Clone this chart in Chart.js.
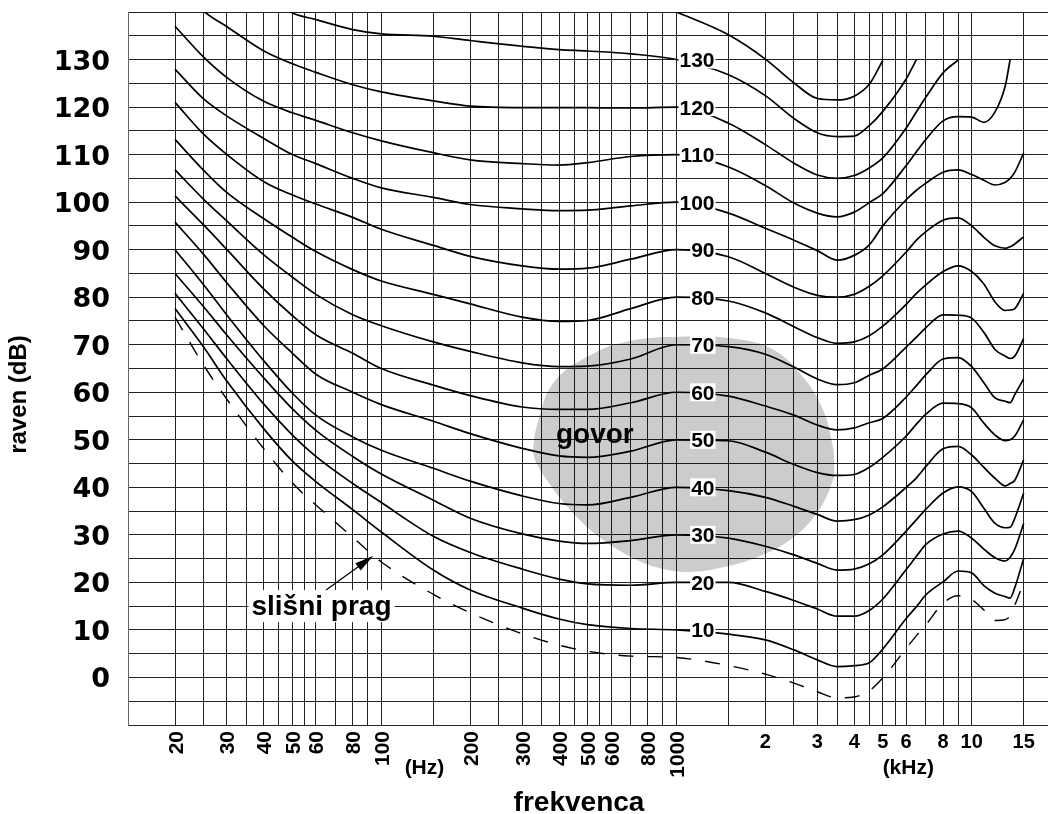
<!DOCTYPE html>
<html>
<head>
<meta charset="utf-8">
<script src="https://cdn.jsdelivr.net/npm/chart.js@4.4.1/dist/chart.umd.min.js"></script>
<style>
  html, body { margin: 0; padding: 0; background: #fff; }
</style>
</head>
<body>
<canvas id="loudnessChart" width="1048" height="814"></canvas>
<script>
const freqs = [20, 25, 30, 40, 50, 60, 80, 100, 150, 200, 300, 400, 500, 700, 1000,
  1500, 2000, 2500, 3000, 3500, 4000, 4500, 5000, 6000, 6500, 7000, 8000, 9000,
  10000, 11000, 12000, 13000, 13500, 14000, 15000];
const n = null;

// equal loudness contours, level in dB at each frequency above
const phon140 = [n, n, n, n, n, n, n, n, n, n, n, n, n, 144, 140, 135.2, 130.1, 125.1, 121.8, 121.5, 122.3, 124.8, 129.8, n, n, n, n, n, n, n, n, n, n, n, n];
const phon130 = [n, n, n, 143.5, 139.8, 138.4, 136.3, 135.4, 134.9, 134, 132.8, 132.1, 131.8, 131.2, 130, 126.8, 122.4, 117.6, 114.6, 113.8, 113.9, 116.1, 119.1, 125.9, 130, n, n, n, n, n, n, n, n, n, n];
const phon120 = [147, 140.2, 136.9, 131.8, 129.1, 127.3, 124.7, 123.2, 121.3, 120.2, 119.9, 119.9, 119.9, 119.8, 120, 116.6, 112.1, 108.2, 105.7, 105, 105.6, 107.2, 109.3, 115.6, 119, 122.1, 127.2, 129.9, n, n, n, n, n, n, n];
const phon110 = [137, 130.5, 126.2, 121.2, 118.8, 117.2, 114.6, 112.9, 110.4, 108.9, 108.1, 107.8, 108.3, 109.6, 110, 107.4, 103.5, 99.8, 97.7, 96.9, 97.9, 99.9, 101.8, 107.7, 110.6, 113.2, 117.1, 118, 117.9, 116.8, 119, 124.5, 130, n, n];
const phon100 = [128, 121.7, 118.1, 113.4, 110, 108.1, 105, 103, 101, 99.5, 98.6, 98.2, 98.3, 99.2, 100, 97.7, 94.5, 92, 89.8, 87.8, 88.8, 91, 95, 100.5, 102.5, 104, 106.3, 106.8, 105.8, 104.6, 103.6, 104.2, 105, 106.3, 110.3];
const phon90 = [121, 114.3, 110, 104.3, 101.5, 99.6, 96.8, 94.3, 90.9, 88.6, 86.6, 85.9, 86.1, 88, 90, 88.5, 85, 82.1, 80.4, 80, 80.6, 82.3, 84.5, 89.5, 92, 93.8, 96.2, 96.7, 95, 92.6, 90.8, 90.3, 90.6, 91.2, 92.7];
const phon80 = [113.2, 106.7, 102, 96.5, 92.6, 89.6, 85.8, 83.4, 80.6, 78.6, 75.8, 74.9, 75.1, 77.6, 80, 79.2, 76.7, 73.8, 71.5, 70.3, 70.6, 71.9, 73.9, 78.5, 80.8, 82.6, 85.4, 86.6, 85.4, 82.8, 79, 77.2, 77.3, 77.6, 80.8];
const phon70 = [106.8, 100.6, 96, 88.9, 84.2, 80.6, 76.3, 74, 70.6, 68.6, 66.2, 65.4, 65.5, 67, 70, 69.6, 68, 65.3, 62.8, 61.6, 62, 63.6, 64.9, 69.5, 71.6, 73.6, 76.3, 76.2, 75.6, 72.6, 69, 67.6, 67.1, 67.6, 71.3];
const phon60 = [101.3, 95.2, 90, 81.7, 76.1, 72.1, 68.2, 65, 61.5, 59.3, 56.9, 56.4, 56.4, 57.8, 60, 59.2, 57.1, 55.2, 53.1, 52.1, 52.5, 53.6, 54.5, 59, 61.4, 63.7, 67, 67.3, 65.4, 62, 58.8, 58.1, 57.8, 59.5, 62.8];
const phon50 = [95.8, 89, 83, 74, 68.2, 63.8, 60, 57.4, 53.9, 51.3, 48.2, 46.6, 46.3, 47.6, 50, 49.8, 47.4, 44.8, 43.1, 42.5, 42.7, 44.2, 46.3, 50.8, 53.3, 55.4, 57.7, 57.6, 56.7, 53.5, 51, 49.8, 50, 50.8, 54.2];
const phon40 = [90, 82.6, 76.2, 66.6, 59.8, 55.2, 50.6, 47.8, 44, 41.3, 38.2, 36.6, 36.3, 37.9, 40, 39.3, 37.9, 36, 34.3, 32.9, 33.2, 34.2, 35.9, 40, 42, 44.4, 48.1, 48.6, 46.8, 44.2, 41.9, 40.3, 40.8, 41.5, 45.8];
const phon30 = [85, 78, 72, 63, 56.5, 52, 46.5, 42.8, 37.3, 33.5, 30.2, 28.7, 28.2, 28.8, 30, 29.3, 27.6, 25.8, 24, 22.6, 22.8, 23.9, 25.8, 30.8, 33.2, 35.4, 38.8, 40.1, 39.1, 35.6, 32.4, 31.5, 31.6, 33.5, 38.8];
const phon20 = [80.8, 73.3, 67, 57.5, 51, 46.5, 40.8, 36.8, 29.7, 26.3, 22.8, 20.7, 19.7, 19.4, 20, 20, 18.1, 16.2, 14.4, 12.9, 12.9, 14.1, 16.5, 22.7, 25.5, 28, 30.2, 30.8, 29.3, 27, 25.2, 24.5, 25.3, 27, 32.4];
const phon10 = [77.6, 69.5, 62.3, 52.3, 45.5, 41.2, 35.3, 30.6, 22.6, 18.4, 14.6, 12.3, 11.1, 10.3, 10, 9.1, 7.9, 5.8, 3.7, 2.3, 2.5, 3.1, 6, 12.4, 14.9, 17.4, 20.1, 22.4, 22, 19.3, 17.7, 17, 16.7, 18.9, 25];
// threshold of hearing (dashed)
const threshold = [75.8, 65.7, 58.5, 48.1, 40.9, 36.3, 29.5, 24.3, 17.5, 13.6, 9.2, 6.8, 5.5, 4.5, 4.2, 2.5, 0.7, -1.2, -3, -4.3, -4.1, -2.8, -0.1, 6.1, 8.8, 11.1, 15.6, 17.2, 16.4, 14.2, 12, 12.2, 13, 15.2, 20];

// speech area outline
const speechFreq = [326, 337, 382, 497, 680, 1027, 1553, 2122, 2682, 3134, 3388, 3420, 3388, 2990, 2424, 1874, 1436, 1110, 879, 735, 564, 446, 364, 332, 326];
const speechLevel = [47.9, 53.1, 61.9, 67.4, 70.7, 71.7, 71.3, 69, 63.2, 56.3, 48.5, 45, 41.5, 34.6, 28.9, 25.3, 23.2, 22.2, 23, 24.7, 28.9, 34.6, 41.5, 45.7, 47.9];

const contourLabels = [130, 120, 110, 100, 90, 80, 70, 60, 50, 40, 30, 20, 10];
const gridFreqs = [20, 25, 30, 35, 40, 45, 50, 55, 60, 70, 80, 90, 100, 150, 200, 250, 300, 350, 400, 450,
  500, 550, 600, 700, 800, 900, 1000, 1500, 2000, 2500, 3000, 3500, 4000, 4500, 5000, 5500, 6000,
  7000, 8000, 9000, 10000, 15000];
const hzTicks = [20, 30, 40, 50, 60, 80, 100, 200, 300, 400, 500, 600, 800, 1000];
const khzTicks = [2000, 3000, 4000, 5000, 6000, 8000, 10000, 15000];
const khzLabels = ['2', '3', '4', '5', '6', '8', '10', '15'];
const arrowFrom = { x: 65, y: 18.4 };
const arrowTo = { x: 94, y: 25.6 };

const contours = [phon140, phon130, phon120, phon110, phon100, phon90, phon80, phon70,
  phon60, phon50, phon40, phon30, phon20, phon10];

const datasets = contours.map(vals => ({
  data: freqs.map((f, i) => ({ x: f, y: vals[i] })),
  borderColor: '#000',
  borderWidth: 1.7,
  pointRadius: 0,
  fill: false,
  cubicInterpolationMode: 'monotone'
}));
datasets.push({
  data: freqs.map((f, i) => ({ x: f, y: threshold[i] })),
  borderColor: '#000',
  borderWidth: 1.4,
  borderDash: [15, 14],
  pointRadius: 0,
  fill: false,
  cubicInterpolationMode: 'monotone'
});
datasets.push({
  data: speechFreq.map((f, i) => ({ x: f, y: speechLevel[i] })),
  borderWidth: 0,
  borderColor: 'rgba(0,0,0,0)',
  backgroundColor: 'rgba(0,0,0,0.2)',
  pointRadius: 0,
  fill: 'shape',
  tension: 0.4
});

const BOLD = '"Liberation Sans", Arial, sans-serif';

const chartText = {
  id: 'chartText',
  afterDatasetsDraw(chart) {
    const { ctx, scales: { x, y } } = chart;
    ctx.save();
    // contour labels on the 1 kHz line
    ctx.font = 'bold 21px ' + BOLD;
    ctx.textAlign = 'right';
    ctx.textBaseline = 'alphabetic';
    const lx = x.getPixelForValue(1000) + 38;
    contourLabels.forEach(v => {
      const py = y.getPixelForValue(v);
      const w = ctx.measureText(String(v)).width;
      ctx.fillStyle = '#fff';
      ctx.fillRect(lx - w - 1, py - 9, w + 2, 18);
      ctx.fillStyle = '#000';
      ctx.fillText(String(v), lx, py + 7.5);
    });

    // speech area label
    ctx.font = 'bold 28px ' + BOLD;
    ctx.textAlign = 'center';
    ctx.fillText('govor', x.getPixelForValue(529), y.getPixelForValue(50.6) + 6);

    // threshold label with arrow
    const tx = x.getPixelForValue(62.7);
    const ty = y.getPixelForValue(14.8);
    const tw = ctx.measureText('slišni prag').width;
    ctx.fillStyle = '#fff';
    ctx.fillRect(tx - tw / 2 - 3, ty - 17, tw + 6, 32);
    ctx.fillStyle = '#000';
    ctx.fillText('slišni prag', tx, ty + 8);

    const x1 = x.getPixelForValue(arrowFrom.x), y1 = y.getPixelForValue(arrowFrom.y);
    const x2 = x.getPixelForValue(arrowTo.x), y2 = y.getPixelForValue(arrowTo.y);
    const ang = Math.atan2(y2 - y1, x2 - x1);
    ctx.strokeStyle = '#000';
    ctx.lineWidth = 1.2;
    ctx.beginPath();
    ctx.moveTo(x1, y1);
    ctx.lineTo(x2 - 14 * Math.cos(ang), y2 - 14 * Math.sin(ang));
    ctx.stroke();
    ctx.beginPath();
    ctx.moveTo(x2, y2);
    ctx.lineTo(x2 - 19 * Math.cos(ang) + 4.5 * Math.sin(ang), y2 - 19 * Math.sin(ang) - 4.5 * Math.cos(ang));
    ctx.lineTo(x2 - 19 * Math.cos(ang) - 4.5 * Math.sin(ang), y2 - 19 * Math.sin(ang) + 4.5 * Math.cos(ang));
    ctx.closePath();
    ctx.fill();
    ctx.restore();
  },
  afterDraw(chart) {
    const { ctx, chartArea, scales: { x } } = chart;
    const bottom = chartArea.bottom;
    ctx.save();
    ctx.fillStyle = '#000';
    // Hz tick labels, rotated
    ctx.font = 'bold 21px ' + BOLD;
    ctx.textAlign = 'right';
    ctx.textBaseline = 'alphabetic';
    hzTicks.forEach(f => {
      ctx.save();
      ctx.translate(x.getPixelForValue(f), bottom + 6);
      ctx.rotate(-Math.PI / 2);
      ctx.fillText(String(f), 0, 7.5);
      ctx.restore();
    });
    // kHz tick labels
    ctx.font = 'bold 20px ' + BOLD;
    ctx.textAlign = 'center';
    khzTicks.forEach((f, i) => {
      ctx.fillText(khzLabels[i], x.getPixelForValue(f), bottom + 23);
    });
    ctx.font = 'bold 21px ' + BOLD;
    ctx.fillText('(Hz)', x.getPixelForValue(140), bottom + 48.5);
    ctx.fillText('(kHz)', x.getPixelForValue(6100), bottom + 48.5);

    // axis titles
    ctx.font = 'bold 28px ' + BOLD;
    ctx.fillText('frekvenca', (chartArea.left + chartArea.right) / 2 - 9, chart.height - 3);
    ctx.save();
    ctx.translate(19, (chartArea.top + chartArea.bottom) / 2 + 26);
    ctx.rotate(-Math.PI / 2);
    ctx.font = 'bold 24px ' + BOLD;
    ctx.textBaseline = 'middle';
    ctx.fillText('raven (dB)', 0, 0);
    ctx.restore();
    ctx.restore();
  }
};

new Chart(document.getElementById('loudnessChart'), {
  type: 'line',
  data: { datasets: datasets },
  options: {
    responsive: false,
    animation: false,
    events: [],
    devicePixelRatio: 1,
    layout: { padding: { top: 12, left: 0, right: 0, bottom: 0 }, autoPadding: false },
    plugins: { legend: { display: false }, tooltip: { enabled: false } },
    scales: {
      x: {
        type: 'logarithmic',
        min: 13.86,
        max: 18140,
        afterBuildTicks: scale => { scale.ticks = gridFreqs.map(v => ({ value: v })); },
        afterFit: scale => { scale.height = 89; scale.paddingLeft = 0; scale.paddingRight = 0; },
        ticks: { display: false, autoSkip: false },
        grid: { color: '#222', lineWidth: 1, drawTicks: false },
        border: { display: false }
      },
      y: {
        min: -10,
        max: 140,
        afterFit: scale => { scale.width = 128; scale.paddingTop = 0; scale.paddingBottom = 0; },
        ticks: {
          stepSize: 5,
          autoSkip: false,
          padding: 18,
          labelOffset: 3,
          color: '#000',
          font: { family: '"DejaVu Sans"', weight: 'bold', size: 27, lineHeight: 1 },
          callback: v => (v % 10 === 0 && v >= 0 && v <= 130) ? String(v) : ''
        },
        grid: { color: '#222', lineWidth: 1, drawTicks: false },
        border: { display: true, color: '#666', width: 1 }
      }
    }
  },
  plugins: [chartText]
});
</script>
</body>
</html>
